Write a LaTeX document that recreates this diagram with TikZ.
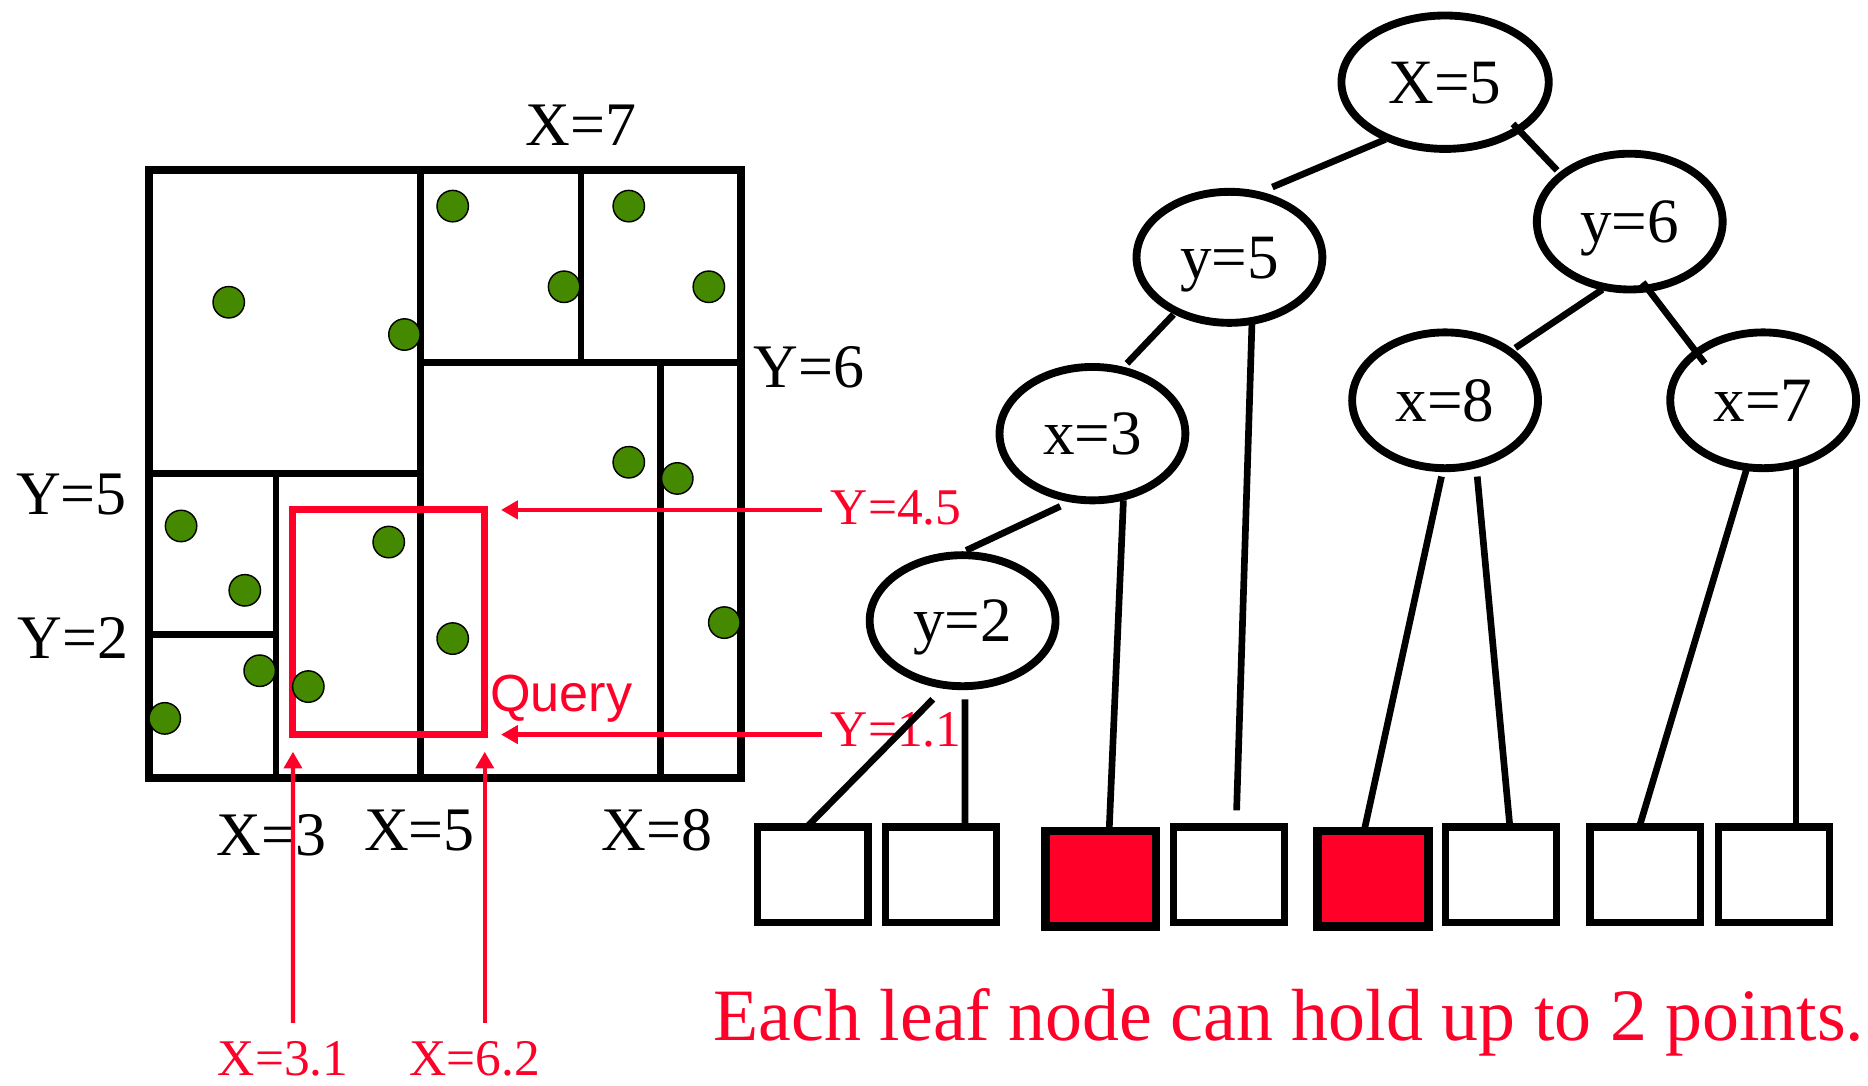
\documentclass[tikz,border=0pt]{standalone}
\usepackage{fontspec}
\setmainfont{Liberation Serif}
\newfontfamily\sansq{Liberation Sans}
\usetikzlibrary{calc,shapes.geometric,arrows.meta}
\definecolor{qred}{RGB}{255,0,41}
\definecolor{ptgreen}{RGB}{69,137,0}
\begin{document}
\begin{tikzpicture}[x=0.5pt,y=-0.5pt,
  tnode/.style={ellipse,draw,line width=3.3pt,inner sep=0pt,outer sep=0pt,minimum width=78pt,minimum height=55pt,font=\fontsize{26.5}{30}\selectfont,text height=17.5pt,text depth=0pt},
  leafbox/.style={rectangle,draw,line width=3.1pt,inner sep=0pt,outer sep=0pt,minimum width=46.5pt,minimum height=40pt},
  hitleaf/.style={leafbox,fill=qred,line width=3.6pt},
  edge/.style={line width=2.8pt},
  wall/.style={line width=2.9pt},
  pt/.style={fill=ptgreen,draw=black,line width=0.6pt},
  blbl/.style={font=\fontsize{26}{30}\selectfont,inner sep=0pt},
  rlbl/.style={font=\fontsize{21.6}{26}\selectfont,text=qred,inner sep=0pt},
  rarrow/.style={draw=qred,line width=1.8pt,-{Triangle[length=7pt,width=7.5pt]}}
]
\useasboundingbox (0,0) rectangle (1568,911);

% ---- left panel: partition of the plane
\draw[line width=3.3pt] (124.8,142.7) rectangle (622,653.2);
\draw[wall] (352.7,142.7) -- (352.7,653.2);
\draw[wall] (124.8,397.4) -- (352.7,397.4);
\draw[wall] (231.7,397.4) -- (231.7,653.2);
\draw[wall] (124.8,532.4) -- (231.7,532.4);
\draw[wall] (352.7,304.1) -- (622,304.1);
\draw[wall] (487.7,142.7) -- (487.7,304.1);
\draw[wall] (554.6,304.1) -- (554.6,653.2);

% query rectangle
\node[draw=qred,line width=2.9pt,inner sep=0pt,outer sep=0pt,minimum width=80.75pt,minimum height=94.3pt] (query) at (326.25,522.3) {};

% points
\foreach \px/\py in {192/253.7, 339.5/280.8, 380/173, 473.5/240.7, 527.8/173, 595/240.7,
  527.8/388, 568.5/401.6, 152/441.5, 205.5/495.5, 326.3/455, 380/536, 608/522.6,
  218/563, 258.8/576.3, 138.3/603}
  \filldraw[pt] (\px,\py) circle[radius=6.6pt];

% black labels
\node[blbl,anchor=base] (lX7) at (487.5,122) {X=7};
\node[blbl,anchor=base west] (lY6) at (632,325) {Y=6};
\node[blbl,anchor=base] (lY5) at (60,432) {Y=5};
\node[blbl,anchor=base] (lY2) at (61,553) {Y=2};
\node[blbl,anchor=base] (lX3) at (228,718) {X=3};
\node[blbl,anchor=base] (lX5) at (352,714) {X=5};
\node[blbl,anchor=base] (lX8) at (551.5,714) {X=8};

% red labels and arrows
\node[rlbl,anchor=base west] (lY45) at (697,440) {Y=4.5};
\node[rlbl,anchor=base west] (lY11) at (697,627) {Y=1.1};
\node[rlbl,anchor=base] (lX31) at (237.7,903) {X=3.1};
\node[rlbl,anchor=base] (lX62) at (398.5,903) {X=6.2};
\node[font=\sansq\fontsize{21.9}{26}\selectfont,text=qred,inner sep=0pt,anchor=base west] (lq) at (411,597.5) {Query};

\coordinate (tY45) at (420.6,428);
\coordinate (tY11) at (420.6,616.6);
\coordinate (tX31) at (245.9,631);
\coordinate (tX62) at (406.9,631);
\draw[rarrow] ($(lY45.base west)+(-7,-12)$) -- (tY45);
\draw[rarrow] ($(lY11.base west)+(-7,-10.4)$) -- (tY11);
\draw[rarrow] ($(lX31.base)+(8.2,-44.4)$) -- (tX31);
\draw[rarrow] ($(lX62.base)+(8.4,-44.4)$) -- (tX62);

% ---- right panel: kd-tree
\node[tnode,minimum width=87pt,minimum height=56pt] (X5) at (1213,69) {X=5};
\node[tnode] (y5) at (1032,216) {y=5};
\node[tnode,minimum height=57pt] (y6) at (1368,186) {y=6};
\node[tnode,minimum height=56pt] (x3) at (917,364) {x=3};
\node[tnode,minimum height=57pt] (x8) at (1213,336) {x=8};
\node[tnode,minimum height=57pt] (x7) at (1480,336) {x=7};
\node[tnode] (y2) at (808,521) {y=2};

\node[leafbox] (leaf1) at (682.2,734.2) {};
\node[leafbox] (leaf2) at (789.7,734.2) {};
\node[hitleaf] (leaf3) at (924,737.7) {};
\node[leafbox] (leaf4) at (1031.5,734.2) {};
\node[hitleaf] (leaf5) at (1152.5,737.7) {};
\node[leafbox] (leaf6) at (1260,734.2) {};
\node[leafbox] (leaf7) at (1381,734.2) {};
\node[leafbox] (leaf8) at (1489,734.2) {};

\draw[edge] ($(X5)+(-50,48)$) -- ($(y5)+(36,-59)$);
\draw[edge] ($(X5)+(57,35)$) -- ($(y6)+(-61,-43)$);
\draw[edge] ($(y5)+(-47,48)$) -- ($(x3)+(29,-59)$);
\draw[edge] ($(y5)+(19,52)$) -- ($(leaf4.north)+(6.5,-14)$);
\draw[edge] ($(x3)+(-27,61)$) -- ($(y2)+(3,-59)$);
\draw[edge] ($(x3)+(26,56)$) -- ($(leaf3.north)+(7,0)$);
\draw[edge] ($(y6)+(-23,57)$) -- ($(x8)+(59,-44)$);
\draw[edge] ($(y6)+(11,51)$) -- ($(x7)+(-49,-31)$);
\draw[edge] ($(x8)+(-3,64)$) -- ($(leaf5.north)+(-7.5,0)$);
\draw[edge] ($(x8)+(27,64)$) -- ($(leaf6.north)+(7.4,0)$);
\draw[edge] ($(x7)+(-13.4,56)$) -- ($(leaf7.north)+(-5,0)$);
\draw[edge] ($(x7)+(27.6,56)$) -- ($(leaf8.north)+(18.6,0)$);
\draw[edge] ($(y2)+(-25,66)$) -- ($(leaf1.north)+(-5,0)$);
\draw[edge] ($(y2)+(2,66)$) -- ($(leaf2.north)+(20.3,0)$);

\node[font=\fontsize{31}{36}\selectfont,text=qred,inner sep=0pt,anchor=base west] (cap) at (598.6,873) {Each leaf node can hold up to 2 points.};
\end{tikzpicture}
\end{document}
